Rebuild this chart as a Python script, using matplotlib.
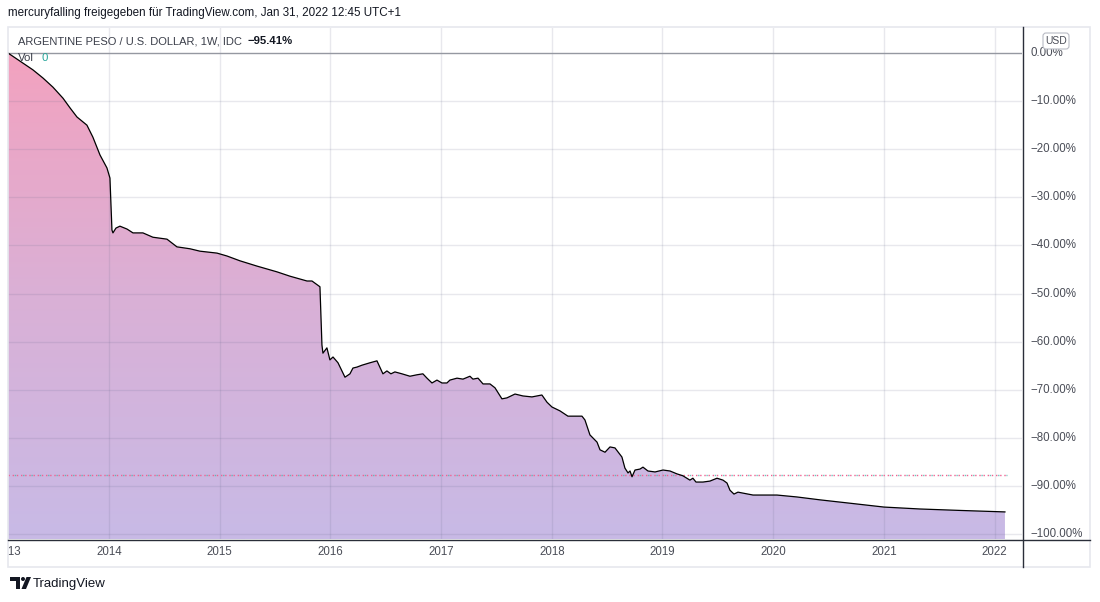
import numpy as np
import matplotlib
matplotlib.use('Agg')
import matplotlib.pyplot as plt
from matplotlib.patches import Polygon, Rectangle, FancyBboxPatch, Circle
from matplotlib.colors import LinearSegmentedColormap

W, H = 1100, 602

# weekly ARS/USD change, decimal year / percent
years = [2013.088, 2013.313, 2013.404, 2013.494, 2013.585, 2013.648, 2013.711, 2013.801,
         2013.855, 2013.919, 2013.982, 2014.009, 2014.027, 2014.036, 2014.063, 2014.099,
         2014.163, 2014.217, 2014.307, 2014.397, 2014.524, 2014.614, 2014.732, 2014.822,
         2014.976, 2015.066, 2015.183, 2015.337, 2015.518, 2015.635, 2015.789, 2015.834,
         2015.906, 2015.924, 2015.933, 2015.969, 2015.996, 2016.024, 2016.069, 2016.132,
         2016.177, 2016.204, 2016.240, 2016.286, 2016.358, 2016.421, 2016.475, 2016.511,
         2016.547, 2016.583, 2016.647, 2016.719, 2016.782, 2016.836, 2016.873, 2016.918,
         2016.963, 2017.008, 2017.053, 2017.080, 2017.144, 2017.198, 2017.261, 2017.288,
         2017.334, 2017.379, 2017.442, 2017.487, 2017.550, 2017.595, 2017.668, 2017.740,
         2017.821, 2017.911, 2017.957, 2018.002, 2018.074, 2018.146, 2018.273, 2018.300,
         2018.345, 2018.409, 2018.436, 2018.481, 2018.526, 2018.571, 2018.634, 2018.661,
         2018.689, 2018.707, 2018.725, 2018.752, 2018.797, 2018.824, 2018.869, 2018.933,
         2019.005, 2019.068, 2019.131, 2019.185, 2019.248, 2019.275, 2019.303, 2019.366,
         2019.429, 2019.493, 2019.547, 2019.583, 2019.610, 2019.646, 2019.682, 2019.818,
         2020.034, 2020.215, 2020.423, 2020.694, 2021.001, 2021.326, 2021.688, 2022.094]
pct = [0.0, -3.5, -5.2, -7.1, -9.4, -11.4, -13.3, -15.0,
       -17.5, -21.2, -23.9, -26.0, -36.8, -37.4, -36.4, -36.0,
       -36.6, -37.4, -37.4, -38.3, -38.7, -40.3, -40.7, -41.2,
       -41.6, -42.2, -43.2, -44.3, -45.5, -46.4, -47.4, -47.4,
       -48.6, -60.7, -62.4, -61.3, -63.8, -63.2, -64.4, -67.4,
       -66.7, -65.5, -65.3, -64.9, -64.4, -64.0, -66.7, -66.1,
       -66.7, -66.3, -66.7, -67.2, -66.9, -66.7, -67.6, -68.6,
       -68.0, -68.6, -68.6, -68.0, -67.6, -67.8, -67.2, -67.8,
       -67.6, -68.8, -68.8, -69.6, -71.9, -71.7, -70.9, -71.3,
       -71.5, -71.1, -72.6, -73.6, -74.4, -75.5, -75.5, -76.3,
       -79.4, -80.9, -82.5, -83.0, -81.9, -82.1, -84.0, -86.3,
       -87.3, -86.9, -88.1, -86.7, -86.5, -86.1, -86.9, -87.1,
       -86.7, -86.9, -87.5, -87.9, -88.8, -88.4, -89.2, -89.2,
       -89.0, -88.4, -88.8, -89.4, -90.9, -91.7, -91.3, -91.9,
       -91.9, -92.3, -92.9, -93.6, -94.4, -94.8, -95.1, -95.41]

year_ticks = list(range(2013, 2023))
pct_ticks = list(range(0, -101, -10))
prev_close = -87.7
last_change = '\u221295.41%'

header = 'mercuryfalling freigegeben für TradingView.com, Jan 31, 2022 12:45 UTC+1'
legend_title = 'ARGENTINE PESO / U.S. DOLLAR, 1W, IDC'

text_col = '#131722'
axis_text = '#4a4d57'
grid_col = (0.40, 0.42, 0.55, 0.15)

plt.rcParams['font.family'] = ['Liberation Sans', 'DejaVu Sans']


def box(x0, y0, x1, y1):
    return [x0 / W, 1 - y1 / H, (x1 - x0) / W, (y1 - y0) / H]


fig = plt.figure(figsize=(W / 100, H / 100), dpi=100)

xmin, xmax = 2013.088, 2022.248
ymin, ymax = -101.04, 5.2

# main pane
ax = fig.add_axes(box(8, 28, 1022, 539))
ax.set_xlim(xmin, xmax)
ax.set_ylim(ymin, ymax)
ax.axis('off')

# gradient area under the line
grad = LinearSegmentedColormap.from_list('tvgrad', ['#f3a2bf', '#dab0d6', '#c8bae6'])
im = ax.imshow(np.linspace(0, 1, 256).reshape(-1, 1), cmap=grad, aspect='auto',
               extent=[xmin, xmax, ymin, 0], origin='upper', zorder=1)
verts = [(years[0], ymin)] + list(zip(years, pct)) + [(years[-1], ymin)]
area = Polygon(verts, closed=True, facecolor='none', edgecolor='none', transform=ax.transData)
ax.add_patch(area)
im.set_clip_path(area)

for yr in year_ticks[1:]:
    ax.axvline(yr, color=grid_col, lw=1, zorder=2)
for p in pct_ticks[1:]:
    ax.axhline(p, color=grid_col, lw=1, zorder=2)
ax.axhline(0, color='#9598a1', lw=1, zorder=2)

# previous close marker line (pink / teal dots)
ax.plot([xmin, 2022.11], [prev_close] * 2, color='#f06292', lw=1.0,
        ls=(0, (1, 2)), zorder=3)
ax.plot([xmin, 2022.11], [prev_close] * 2, color='#4db6ac', lw=1.0,
        ls=(1.5, (1, 5)), alpha=0.8, zorder=3)

ax.plot(years, pct, color='black', lw=0.9, zorder=4)

# price scale
rax = fig.add_axes(box(1022, 28, 1090, 539))
rax.set_xlim(0, 1)
rax.set_ylim(ymin, ymax)
rax.axis('off')
for p in pct_ticks:
    lab = ('%.2f%%' % p).replace('-', '\u2212')
    rax.text(0.12, p, lab, fontsize=8.3, color=axis_text, va='center', ha='left')

# time scale (first label sits on the first bar and is cut by the pane edge)
tax = fig.add_axes(box(8, 539, 1022, 567))
tax.set_xlim(xmin, xmax)
tax.set_ylim(0, 1)
tax.axis('off')
for yr in year_ticks:
    xpos = max(yr, xmin)
    t = tax.text(xpos, 0.55, str(yr), fontsize=8.3, color=axis_text, ha='center', va='center')
    t.set_clip_on(True)

# frame, header, footer in pixel space
ov = fig.add_axes([0, 0, 1, 1], facecolor='none')
ov.set_xlim(0, W)
ov.set_ylim(H, 0)
ov.axis('off')
ov.add_patch(Rectangle((8, 27), 1082, 540, facecolor='none', edgecolor='#e6e8ee', lw=1.2))
ov.plot([1022.5, 1022.5], [27, 567], color='#2a2e39', lw=1.0)
ov.plot([8, 1090], [539.5, 539.5], color='#2a2e39', lw=1.0)

ov.add_patch(FancyBboxPatch((1043, 33), 26, 16, boxstyle='round,pad=0,rounding_size=3',
                            facecolor='white', edgecolor='#b8bbc4', lw=0.8, zorder=5))
ov.text(1056, 41, 'USD', fontsize=7.5, color=axis_text, ha='center', va='center', zorder=6)

ov.text(8, 13, header, fontsize=8.4, color=text_col, va='center', ha='left')
ov.text(18, 41, legend_title, fontsize=8.0, color='#3b3f4a', va='center', ha='left')
ov.text(247, 41, last_change, fontsize=8.2, color=text_col, va='center', ha='left',
        fontweight='semibold')
ov.text(18, 58, 'Vol', fontsize=8.2, color='#3b3f4a', va='center', ha='left')
ov.text(41, 58, '0', fontsize=8.2, color='#26a69a', va='center', ha='left')

# TradingView logo
ov.add_patch(Polygon([(10, 577), (20, 577), (20, 589), (15.5, 589), (15.5, 581), (10, 581)],
                     closed=True, facecolor=text_col, edgecolor='none'))
ov.add_patch(Circle((23, 579), 2.0, facecolor=text_col, edgecolor='none'))
ov.add_patch(Polygon([(26.5, 577), (31, 577), (26, 589), (21.5, 589)],
                     closed=True, facecolor=text_col, edgecolor='none'))
ov.text(33, 583.5, 'TradingView', fontsize=9.5, color=text_col, va='center', ha='left')

fig.savefig('out.png', dpi=100)
